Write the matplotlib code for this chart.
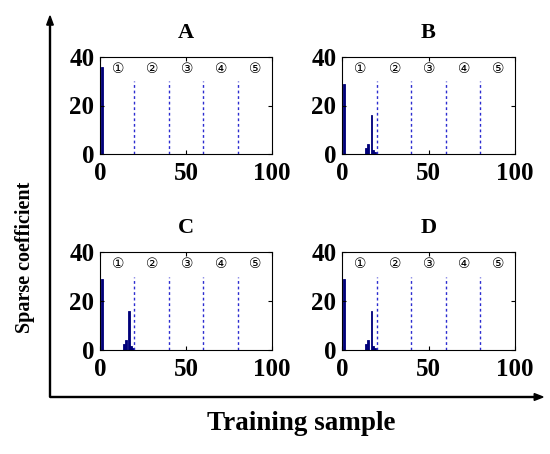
import matplotlib
matplotlib.use("Agg")
import matplotlib.pyplot as plt

# panel titles
panels = ["A", "B", "C", "D"]

# sparse coefficients per panel: training sample index -> value
samples_A = [1]
coef_A = [36]
samples_B = [1, 14, 15, 17, 18, 19]
coef_B = [29, 2.5, 4, 16, 1.5, 1]
samples_C = [1, 14, 15, 17, 18, 19]
coef_C = [29, 2.5, 4, 16, 1.5, 1]
samples_D = [1, 14, 15, 17, 18, 19]
coef_D = [29, 2.5, 4, 16, 1.5, 1]

# class boundaries and class labels
boundaries = [20, 40, 60, 80]
boundary_top = 30
class_x = [10.5, 30.5, 50.5, 70.5, 90.5]
class_labels = ["①", "②", "③", "④", "⑤"]
class_y = 35

xticks = [0, 50, 100]
yticks = [0, 20, 40]

data = {
    "A": (samples_A, coef_A),
    "B": (samples_B, coef_B),
    "C": (samples_C, coef_C),
    "D": (samples_D, coef_D),
}

W, H = 550, 454
fig = plt.figure(figsize=(W / 100, H / 100), dpi=100)

serif = "Liberation Serif"

# axes positions in pixels: left, top, width, height
boxes = {
    "A": (100, 57, 172, 97),
    "B": (342, 57, 173, 97),
    "C": (100, 252, 172, 98),
    "D": (342, 252, 173, 98),
}

for name in panels:
    l, t, w, h = boxes[name]
    ax = fig.add_axes([l / W, 1 - (t + h) / H, w / W, h / H])
    xs, ys = data[name]
    ax.bar(xs, ys, width=1.0, color="#00007a", edgecolor="#00007a", linewidth=0.6)
    for b in boundaries:
        ax.plot([b, b], [0, boundary_top], color="#2b2bd0", lw=1.0,
                linestyle=(0, (2, 2)))
    for cx, lab in zip(class_x, class_labels):
        ax.text(cx, class_y, lab, ha="center", va="center", fontsize=10,
                family=["DejaVu Sans", "Noto Sans CJK SC"])
    ax.set_xlim(0, 100)
    ax.set_ylim(0, 40)
    ax.set_xticks(xticks)
    ax.set_yticks(yticks)
    ax.tick_params(direction="in", length=3, width=0.8, top=True, right=True,
                   labelsize=18)
    ax.tick_params(axis="y", pad=4)
    ax.tick_params(axis="x", pad=6)
    for lab in ax.get_xticklabels() + ax.get_yticklabels():
        lab.set_family(serif)
        lab.set_fontweight("bold")
    for s in ax.spines.values():
        s.set_linewidth(0.8)
    ax.set_title(name, fontsize=16, fontweight="bold", family=serif, pad=14)

# outer arrows
fig.patches.append(matplotlib.patches.FancyArrow(
    50 / W, 1 - 397 / H, 0, (397 - 16) / H, width=0.0018, head_width=0.012,
    head_length=0.02, length_includes_head=True, color="black",
    transform=fig.transFigure, figure=fig))
fig.patches.append(matplotlib.patches.FancyArrow(
    50 / W, 1 - 397 / H, (543 - 50) / W, 0, width=0.0022, head_width=0.015,
    head_length=0.016, length_includes_head=True, color="black",
    transform=fig.transFigure, figure=fig))

fig.text(301 / W, 1 - 423 / H, "Training sample", ha="center", va="center",
         fontsize=19.5, fontweight="bold", family=serif)
fig.text(25 / W, 1 - 257 / H, "Sparse coefficient", ha="center", va="center",
         rotation=90, fontsize=14.5, fontweight="bold", family=serif)

fig.savefig("out.png", dpi=100)
